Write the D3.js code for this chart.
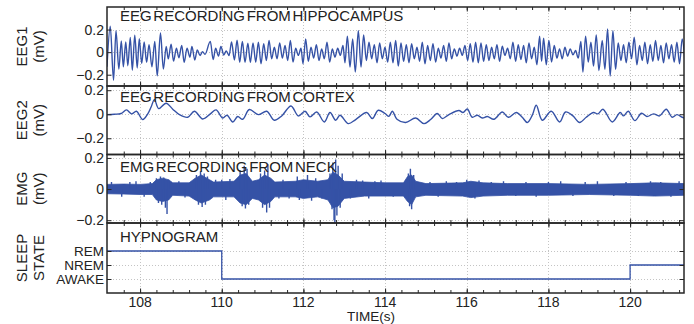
<!DOCTYPE html>
<html>
<head>
<meta charset="utf-8">
<script src="https://cdn.jsdelivr.net/npm/d3@7"></script>
<style>
  body { margin: 0; background: #fff; }
  svg { display: block; font-family: "Liberation Sans", Arial, Helvetica, sans-serif; }
</style>
</head>
<body>
<script>
// ---- data ----
const timeRange = [107.19, 121.32];
const timeTicks = [108, 110, 112, 114, 116, 118, 120];
const mvTicks = [-0.2, 0, 0.2];
const stateTicks = [1, 2, 3];
const stateNames = ['AWAKE', 'NREM', 'REM'];

// EEG1: extrema of the hippocampal trace [time s, mV]
const eeg1 = [
  [107.19,-0.13],[107.27,0.23],[107.35,-0.25],[107.41,0.19],[107.48,-0.15],[107.54,0.10],[107.59,-0.13],[107.65,0.09],
  [107.70,-0.12],[107.76,0.13],[107.81,-0.16],[107.87,0.15],[107.93,-0.14],[107.98,0.12],[108.04,-0.10],[108.10,0.09],
  [108.16,-0.09],[108.22,0.065],[108.29,-0.13],[108.36,0.095],[108.42,-0.21],[108.50,0.17],[108.57,-0.15],[108.64,0.05],
  [108.69,-0.06],[108.76,0.07],[108.82,-0.08],[108.89,0.035],[108.95,-0.05],[109.02,0.06],[109.08,-0.09],[109.15,0.035],
  [109.22,-0.045],[109.27,0.05],[109.34,-0.07],[109.40,0.02],[109.47,-0.03],[109.53,0.005],[109.59,-0.02],[109.72,0.095],
  [109.79,-0.065],[109.85,0.035],[109.92,-0.035],[109.98,0.05],[110.05,-0.025],[110.11,0.01],[110.18,-0.03],[110.24,0.09],
  [110.31,-0.07],[110.375,0.105],[110.44,-0.09],[110.505,0.095],[110.57,-0.09],[110.64,0.08],[110.70,-0.09],
  [110.766,0.082],[110.832,-0.088],[110.897,0.088],[110.962,-0.103],[111.027,0.074],[111.093,-0.074],[111.158,0.103],
  [111.223,-0.059],[111.288,0.044],[111.354,-0.059],[111.419,0.082],[111.484,-0.053],[111.55,0.059],[111.615,-0.074],
  [111.68,0.103],[111.745,-0.088],[111.81,0.035],[111.876,-0.029],[111.941,0.035],[111.99,-0.103],[112.055,0.118],
  [112.12,-0.082],[112.186,0.044],[112.251,-0.053],[112.317,0.065],[112.382,-0.074],[112.447,0.029],[112.512,-0.059],
  [112.578,0.088],[112.643,-0.088],[112.708,0.029],[112.774,-0.044],[112.839,0.035],[112.904,-0.029],[112.969,0.059],
  [113.018,-0.094],[113.076,0.141],[113.141,-0.132],[113.206,0.118],[113.271,-0.176],[113.345,0.191],[113.41,-0.132],
  [113.475,0.153],[113.541,-0.074],[113.606,0.088],[113.671,-0.059],[113.736,0.065],[113.802,-0.094],[113.867,0.082],
  [113.932,-0.059],[113.998,0.044],[114.063,-0.088],[114.128,0.088],[114.193,-0.094],[114.259,0.103],
  [114.324,-0.124],[114.389,0.082],[114.454,-0.082],[114.52,0.065],[114.585,-0.094],[114.65,0.074],[114.716,-0.059],
  [114.781,0.044],[114.846,-0.082],[114.911,0.088],[114.977,-0.103],[115.042,0.059],[115.107,-0.074],[115.173,0.074],
  [115.238,-0.088],[115.303,0.035],[115.368,-0.053],[115.434,0.059],[115.499,-0.082],[115.564,0.082],[115.63,-0.059],
  [115.695,0.029],[115.76,-0.035],[115.825,0.035],[115.891,-0.029],[115.956,0.059],[116.021,-0.074],[116.086,0.074],
  [116.152,-0.088],[116.217,0.088],[116.282,-0.094],[116.348,0.082],[116.413,-0.082],[116.478,0.065],[116.543,-0.074],
  [116.609,0.044],[116.674,-0.059],[116.739,0.065],[116.805,-0.082],[116.87,0.053],[116.935,-0.029],[117.0,0.035],
  [117.066,-0.059],[117.131,0.088],[117.196,-0.082],[117.261,0.065],[117.327,-0.065],[117.392,0.059],[117.457,-0.094],
  [117.523,0.082],[117.588,-0.059],[117.653,0.044],[117.718,-0.112],[117.784,0.141],
  [117.833,-0.082],[117.882,0.124],[117.947,-0.112],[118.012,0.103],[118.077,-0.088],[118.143,0.059],[118.208,-0.053],
  [118.273,0.029],[118.338,-0.059],[118.404,0.044],[118.469,-0.035],[118.534,0.029],[118.6,-0.024],[118.665,0.015],
  [118.73,-0.053],[118.795,0.094],[118.844,-0.176],[118.91,0.141],[118.975,-0.088],[119.04,0.088],[119.105,-0.124],
  [119.171,0.153],[119.236,-0.162],[119.318,0.103],[119.383,-0.153],[119.448,0.206],[119.513,-0.212],[119.579,0.191],
  [119.644,-0.153],[119.709,0.082],[119.775,-0.074],[119.84,0.065],[119.905,-0.094],[119.97,0.088],[120.036,-0.059],
  [120.101,0.132],[120.166,-0.112],[120.232,0.059],[120.297,-0.074],[120.362,0.088],[120.427,-0.103],[120.493,0.065],
  [120.558,-0.082],[120.623,0.103],[120.689,-0.074],[120.754,0.059],[120.819,-0.094],[120.884,0.082],[120.95,-0.059],
  [121.015,0.065],[121.08,-0.088],[121.146,0.088],[121.211,-0.103],[121.276,0.118],[121.341,-0.082]
];

// EEG2: cortical trace [time s, mV]
const eeg2 = [
  [107.19,-0.003],[107.37,0],[107.535,0.006],[107.666,0.036],[107.796,0.003],[107.91,0.025],[108.065,-0.044],[108.188,0.003],
  [108.27,0.06],[108.351,0.122],[108.457,0.047],[108.637,0.092],[108.8,0.042],[108.963,-0.003],[109.167,-0.025],[109.33,0.025],
  [109.534,-0.039],[109.722,0.003],[109.86,0.036],[110.024,-0.031],[110.13,-0.008],[110.269,-0.064],[110.391,-0.019],
  [110.513,-0.042],[110.676,0.039],[110.897,-0.003],[111.101,0.025],[111.288,-0.05],[111.468,-0.014],[111.696,0.069],
  [111.876,-0.014],[112.039,0.025],[112.162,-0.022],[112.325,0.019],[112.513,-0.064],[112.651,0.014],[112.79,-0.05],
  [112.896,-0.008],[113.1,-0.078],[113.28,-0.044],[113.549,0.014],[113.688,-0.036],[113.834,0.033],[113.998,0.006],
  [114.095,-0.017],[114.177,0.025],[114.291,-0.042],[114.503,-0.069],[114.748,-0.031],[114.952,-0.078],[115.115,-0.044],
  [115.279,0.006],[115.401,-0.036],[115.564,-0.003],[115.809,0.031],[115.907,0.014],[116.013,0.044],[116.135,-0.025],
  [116.258,-0.008],[116.38,-0.031],[116.503,-0.019],[116.666,-0.042],[116.87,0.019],[117.017,-0.025],[117.213,0.014],
  [117.36,-0.025],[117.482,-0.069],[117.605,-0.008],[117.703,0.075],[117.849,-0.05],[118.069,0.025],[118.273,-0.064],
  [118.42,0.019],[118.6,-0.014],[118.763,-0.069],[118.926,-0.025],[119.105,0.014],[119.212,0.003],[119.334,0.042],
  [119.563,-0.064],[119.758,0.014],[119.84,-0.014],[119.954,0.025],[120.117,-0.053],[120.28,0.008],[120.411,-0.019],
  [120.574,0.003],[120.721,-0.014],[120.885,0.042],[121.031,-0.025],[121.146,-0.003],[121.276,-0.025],[121.374,-0.036]
];

// EMG: envelope of the dense trace [time s, upper mV, lower mV]
const emgEnvelope = [
  [107.19,0.03,-0.03],[107.6,0.032,-0.032],[108.0,0.03,-0.035],[108.3,0.035,-0.035],[108.4,0.06,-0.07],
  [108.55,0.07,-0.08],[108.7,0.06,-0.07],[108.8,0.04,-0.04],[109.2,0.04,-0.045],[109.35,0.07,-0.07],
  [109.5,0.09,-0.09],[109.7,0.06,-0.07],[109.8,0.045,-0.05],[110.3,0.05,-0.05],[110.45,0.09,-0.09],
  [110.6,0.10,-0.10],[110.75,0.05,-0.06],[110.9,0.06,-0.07],[111.05,0.09,-0.10],[111.2,0.07,-0.08],
  [111.3,0.045,-0.05],[111.8,0.05,-0.05],[112.0,0.06,-0.06],[112.35,0.05,-0.05],[112.6,0.06,-0.07],
  [112.72,0.11,-0.12],[112.85,0.09,-0.11],[113.0,0.05,-0.06],[113.5,0.045,-0.045],[114.0,0.04,-0.045],
  [114.45,0.04,-0.045],[114.55,0.08,-0.08],[114.65,0.09,-0.10],[114.75,0.05,-0.05],[115.0,0.035,-0.04],
  [115.9,0.04,-0.045],[116.1,0.05,-0.055],[116.4,0.04,-0.045],[117.0,0.035,-0.04],[118.0,0.035,-0.04],
  [119.0,0.03,-0.035],[120.0,0.035,-0.04],[120.6,0.04,-0.045],[121.35,0.035,-0.04]
];

// EMG: single tall spikes sticking out of the band [time s, mV]
const emgSpikes = [
  [107.3,0.045],[107.55,-0.05],[107.75,0.045],[107.9,0.05],[108.1,-0.05],[108.25,0.045],
  [108.40,0.07],[108.45,-0.09],[108.5,0.08],[108.53,-0.1],[108.58,0.075],[108.62,-0.12],[108.66,-0.16],[108.7,0.06],
  [108.95,0.05],[109.1,-0.055],
  [109.38,0.09],[109.43,-0.1],[109.48,0.115],[109.52,-0.115],[109.57,0.1],[109.6,-0.1],[109.65,0.08],
  [109.85,0.06],[110.0,0.06],[110.1,-0.07],[110.2,0.065],
  [110.45,0.12],[110.5,-0.11],[110.55,0.15],[110.58,-0.125],[110.62,0.13],[110.66,-0.1],
  [110.95,0.1],[111.0,-0.12],[111.05,0.12],[111.1,-0.15],[111.13,0.16],[111.17,-0.12],
  [111.4,-0.06],[111.5,0.06],[111.65,-0.06],[111.85,0.08],[111.9,-0.07],[112.1,0.09],[112.2,-0.075],[112.3,0.07],
  [112.45,-0.06],
  [112.65,0.1],[112.7,-0.13],[112.72,0.17],[112.75,-0.2],[112.77,-0.22],[112.79,0.19],[112.82,-0.17],[112.85,0.15],
  [112.9,-0.12],[112.95,0.1],
  [113.15,-0.06],[113.3,0.06],[113.45,0.055],[113.6,-0.06],[113.75,0.05],[113.9,0.055],[114.2,-0.05],
  [114.57,0.1],[114.6,-0.11],[114.62,0.13],[114.65,-0.13],[114.7,0.09],
  [115.1,0.045],[115.3,-0.05],[115.5,0.05],[115.75,0.045],[116.0,0.06],[116.2,-0.06],[116.3,0.055],[116.6,0.045],
  [116.9,0.05],[117.2,-0.045],[117.45,0.045],[117.7,-0.05],[118.0,0.045],[118.3,0.05],[118.6,-0.045],[118.9,0.045],
  [119.2,0.05],[119.6,-0.045],[119.9,0.045],[120.2,-0.045],[120.5,0.05],[120.75,0.045],[121.0,-0.05],[121.2,0.05]
];

// hypnogram: state changes [time s, state]
const hypnogram = [[107.19, 'REM'], [110, 'AWAKE'], [120, 'NREM'], [121.32, 'NREM']];

// ---- layout ----
const width = 694, height = 324;
const plotLeft = 107, plotRight = 684;
const lineColor = '#3552a6';
const axisColor = '#262626';

const x = d3.scaleLinear().domain(timeRange).range([plotLeft, plotRight]);
const minorTicks = d3.range(107.6, timeRange[1], 0.4);

const panels = [
  {top: 7, bottom: 86, domain: [-0.3, 0.4], ticks: mvTicks, label: ['EEG1', '(mV)'],
   title: 'EEG RECORDING FROM HIPPOCAMPUS', titleDy: 14},
  {top: 86, bottom: 154.5, domain: [-0.335, 0.235], ticks: mvTicks, label: ['EEG2', '(mV)'],
   title: 'EEG RECORDING FROM CORTEX', titleDy: 15.5},
  {top: 154.5, bottom: 223, domain: [-0.218, 0.222], ticks: mvTicks, label: ['EMG', '(mV)'],
   title: 'EMG RECORDING FROM NECK', titleDy: 17.5},
  {top: 223, bottom: 293, domain: [0, 5], ticks: stateTicks, label: ['SLEEP', 'STATE'],
   title: 'HYPNOGRAM', titleDy: 18.5, names: stateNames}
];

const svg = d3.select('body').append('svg')
  .attr('width', width)
  .attr('height', height);

const mvFormat = d => d === 0 ? '0' : d3.format('.1f')(d);

panels.forEach((p, i) => {
  p.y = d3.scaleLinear().domain(p.domain).range([p.bottom, p.top]);
  const g = svg.append('g').attr('class', 'panel');

  g.append('clipPath').attr('id', 'clip' + i)
    .append('rect')
    .attr('x', plotLeft).attr('y', p.top)
    .attr('width', plotRight - plotLeft).attr('height', p.bottom - p.top);

  // grid
  const grid = g.append('g')
    .attr('stroke', '#c4c4c4')
    .attr('stroke-width', 1)
    .attr('stroke-dasharray', '1,2');
  grid.selectAll('line.vx').data(timeTicks).enter().append('line')
    .attr('x1', d => Math.round(x(d)) + 0.5).attr('x2', d => Math.round(x(d)) + 0.5)
    .attr('y1', p.top).attr('y2', p.bottom);
  grid.selectAll('line.hy').data(p.ticks).enter().append('line')
    .attr('x1', plotLeft).attr('x2', plotRight)
    .attr('y1', d => Math.round(p.y(d)) + 0.5).attr('y2', d => Math.round(p.y(d)) + 0.5);

  p.plot = g.append('g').attr('clip-path', `url(#clip${i})`);
  p.g = g;
});

// EEG1
panels[0].plot.append('path')
  .datum(eeg1)
  .attr('fill', 'none')
  .attr('stroke', lineColor)
  .attr('stroke-width', 1.4)
  .attr('d', d3.line().x(d => x(d[0])).y(d => panels[0].y(d[1])).curve(d3.curveMonotoneX));

// EEG2
panels[1].plot.append('path')
  .datum(eeg2)
  .attr('fill', 'none')
  .attr('stroke', lineColor)
  .attr('stroke-width', 1.4)
  .attr('d', d3.line().x(d => x(d[0])).y(d => panels[1].y(d[1])).curve(d3.curveCatmullRom));

// EMG
const yE = panels[2].y;
panels[2].plot.append('path')
  .datum(emgEnvelope)
  .attr('fill', lineColor)
  .attr('stroke', lineColor)
  .attr('stroke-width', 0.8)
  .attr('d', d3.area().x(d => x(d[0])).y0(d => yE(d[2])).y1(d => yE(d[1])));

panels[2].plot.selectAll('line.spike')
  .data(emgSpikes)
  .enter()
  .append('line')
  .attr('class', 'spike')
  .attr('x1', d => x(d[0])).attr('x2', d => x(d[0]))
  .attr('y1', yE(0)).attr('y2', d => yE(d[1]))
  .attr('stroke', lineColor)
  .attr('stroke-width', 1.4);

// hypnogram
const yS = panels[3].y;
panels[3].plot.append('path')
  .datum(hypnogram)
  .attr('fill', 'none')
  .attr('stroke', lineColor)
  .attr('stroke-width', 1.3)
  .attr('d', d3.line().x(d => x(d[0])).y(d => yS(stateNames.indexOf(d[1]) + 1)).curve(d3.curveStepAfter));

// axes, labels and titles on top
panels.forEach((p, i) => {
  const g = p.g;
  const noDomain = sel => sel.select('.domain').remove();
  const tickStyle = sel => sel.selectAll('line').attr('stroke', axisColor);

  [[d3.axisTop, p.bottom], [d3.axisBottom, p.top]].forEach(([axis, yPos]) => {
    g.append('g').attr('transform', `translate(0,${yPos})`)
      .call(axis(x).tickValues(timeTicks).tickSize(4.5).tickFormat(''))
      .call(noDomain).call(tickStyle);
    g.append('g').attr('transform', `translate(0,${yPos})`)
      .call(axis(x).tickValues(minorTicks).tickSize(3).tickFormat(''))
      .call(noDomain).call(tickStyle);
  });

  g.append('g').attr('transform', `translate(${plotLeft},0)`)
    .call(d3.axisRight(p.y).tickValues(p.ticks).tickSize(4.5).tickFormat(''))
    .call(noDomain).call(tickStyle);
  g.append('g').attr('transform', `translate(${plotRight},0)`)
    .call(d3.axisLeft(p.y).tickValues(p.ticks).tickSize(4.5).tickFormat(''))
    .call(noDomain).call(tickStyle);

  // box
  g.append('rect')
    .attr('x', plotLeft).attr('y', p.top)
    .attr('width', plotRight - plotLeft).attr('height', p.bottom - p.top)
    .attr('fill', 'none')
    .attr('stroke', axisColor)
    .attr('stroke-width', 1.5);

  // y tick labels
  g.selectAll('text.ytick').data(p.ticks).enter().append('text')
    .attr('class', 'ytick')
    .attr('x', plotLeft - 3)
    .attr('y', d => p.y(d))
    .attr('dy', '0.36em')
    .attr('text-anchor', 'end')
    .attr('font-size', p.names ? 13.5 : 14)
    .attr('fill', '#222')
    .text(d => p.names ? p.names[d - 1] : mvFormat(d));

  // title inside the box
  g.append('text')
    .attr('x', 120)
    .attr('y', p.top + p.titleDy)
    .attr('font-size', 15)
    .attr('word-spacing', -2.5)
    .attr('fill', '#222')
    .text(p.title);

  // y label (two rotated lines)
  const cy = (p.top + p.bottom) / 2;
  p.label.forEach((t, k) => {
    g.append('text')
      .attr('transform', `translate(${27 + k * 17},${cy}) rotate(-90)`)
      .attr('text-anchor', 'middle')
      .attr('font-size', 15)
      .attr('fill', '#222')
      .text(t);
  });
});

// x tick labels under the last panel
svg.selectAll('text.xtick').data(timeTicks).enter().append('text')
  .attr('class', 'xtick')
  .attr('x', d => x(d))
  .attr('y', 307)
  .attr('text-anchor', 'middle')
  .attr('font-size', 14)
  .attr('fill', '#222')
  .text(d => d);

svg.append('text')
  .attr('x', 371)
  .attr('y', 321)
  .attr('text-anchor', 'middle')
  .attr('font-size', 13.5)
  .attr('fill', '#222')
  .text('TIME(s)');
</script>
</body>
</html>
